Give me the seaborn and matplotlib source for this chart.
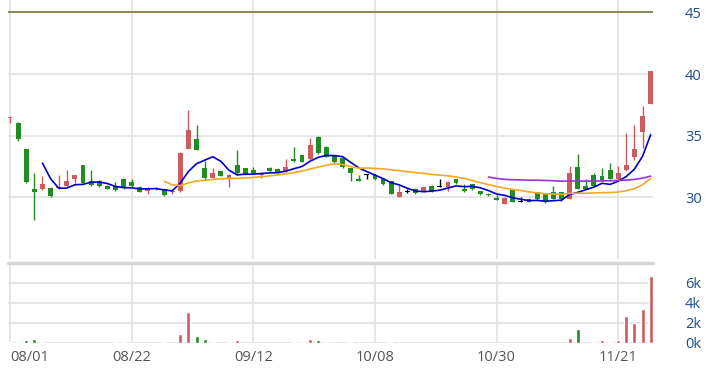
import matplotlib
matplotlib.use("Agg")
import matplotlib.pyplot as plt
import seaborn as sns
import pandas as pd

# daily OHLC, 80 trading days from 08/01
opens = [36.4, 36.0, 33.9, 30.65, 30.65, 30.75, 30.75, 30.9, 31.5, 32.6,
         31.3, 31.3, 30.95, 30.9, 31.45, 31.25, 30.85, 30.5, 30.65, 30.65,
         30.4, 30.5, 33.95, 34.7, 32.4, 31.6, 32.1, 31.6, 32.6, 32.35,
         32.25, 31.8, 32.4, 32.3, 32.1, 33.1, 33.4, 33.1, 34.9, 34.1,
         33.4, 33.2, 32.35, 31.5, 31.78, 31.85, 31.5, 31.3, 30.05, 30.4,
         30.7, 30.45, 30.95, 30.87, 30.8, 31.45, 30.7, 31.05, 30.5, 30.3,
         29.95, 29.5, 30.6, 29.65, 29.9, 30.4, 30.25, 30.4, 30.4, 29.9,
         32.5, 30.9, 31.8, 31.75, 32.2, 31.45, 32.2, 33.3, 35.3, 37.55]
highs = [36.6, 36.1, 33.9, 32.0, 31.7, 30.8, 31.8, 32.2, 31.85, 32.65,
         32.25, 31.4, 31.0, 31.25, 31.5, 31.45, 30.9, 30.8, 30.8, 30.7,
         30.6, 33.65, 37.1, 35.9, 32.95, 32.4, 32.15, 31.9, 33.8, 32.4,
         32.45, 32.05, 32.45, 32.35, 33.1, 34.1, 33.45, 34.85, 34.95, 34.15,
         33.45, 33.25, 32.4, 31.8, 31.9, 31.9, 31.55, 31.35, 31.0, 30.65,
         30.75, 30.85, 31.0, 31.5, 31.3, 31.5, 31.05, 31.1, 30.55, 30.35,
         30.15, 30.0, 30.65, 30.0, 29.95, 30.45, 30.3, 30.9, 30.45, 32.55,
         33.5, 31.5, 32.0, 32.4, 32.75, 32.5, 35.25, 35.85, 37.4, 40.25]
lows = [36.0, 34.6, 31.2, 28.2, 30.6, 30.0, 30.7, 30.85, 31.2, 31.15,
        30.95, 30.85, 30.65, 30.55, 30.7, 30.85, 30.4, 30.3, 30.6, 30.1,
        30.3, 30.45, 33.9, 33.8, 31.4, 31.55, 31.7, 30.8, 31.9, 31.85,
        31.9, 31.6, 32.05, 32.0, 32.05, 32.9, 32.85, 33.05, 33.55, 33.25,
        32.8, 32.4, 31.3, 31.3, 31.45, 31.4, 31.0, 30.25, 30.0, 30.38,
        30.3, 30.4, 30.45, 30.85, 30.5, 31.05, 30.45, 30.6, 30.2, 30.1,
        29.8, 29.45, 29.6, 29.6, 29.6, 29.8, 29.55, 29.85, 29.7, 29.85,
        30.65, 30.65, 30.9, 31.35, 31.45, 31.4, 32.15, 33.05, 34.0, 37.55]
closes = [36.45, 34.7, 31.25, 30.45, 31.05, 30.1, 30.85, 31.3, 31.8, 31.2,
          31.0, 30.9, 30.7, 30.6, 30.75, 30.9, 30.45, 30.75, 30.7, 30.2,
          30.55, 33.6, 35.45, 33.85, 31.6, 31.95, 31.75, 31.85, 31.95, 31.9,
          31.95, 32.0, 32.1, 32.05, 32.5, 32.95, 32.9, 34.25, 33.6, 33.3,
          32.85, 32.5, 31.95, 31.35, 31.78, 31.45, 31.05, 30.3, 30.45, 30.4,
          30.35, 30.8, 30.5, 30.87, 31.25, 31.2, 30.5, 30.65, 30.25, 30.15,
          29.8, 29.95, 29.65, 29.65, 29.65, 29.85, 29.6, 29.9, 29.85, 31.95,
          30.7, 30.7, 30.95, 31.4, 31.5, 32.0, 32.6, 33.95, 36.6, 40.25]
# volume in thousands
volumes = [0.1, 0.1, 0.25, 0.4, 0.1, 0, 0, 0, 0, 0,
           0, 0, 0, 0.1, 0.1, 0, 0, 0, 0, 0.08,
           0, 0.9, 3.1, 0.65, 0.4, 0.1, 0, 0.1, 0.27, 0,
           0, 0, 0, 0, 0, 0.05, 0.1, 0.4, 0.33, 0.1,
           0, 0, 0.08, 0, 0, 0, 0, 0.08, 0, 0,
           0, 0, 0, 0, 0, 0, 0, 0, 0, 0,
           0, 0, 0, 0, 0, 0, 0, 0, 0, 0.53,
           1.4, 0, 0.1, 0.27, 0.1, 0.3, 2.65, 2.0, 3.4, 6.7]
tick_labels = ['08/01', '08/22', '09/12', '10/08', '10/30', '11/21']
tick_step = 15
ref_price = 45

RED, GREEN = '#cd5c5c', '#228b22'
GRID = '#e2e2e2'
LABEL = '#1f4e8c'

sns.set_style('white')
plt.rcParams['font.family'] = ['Open Sans', 'DejaVu Sans']

df = pd.DataFrame({'open': opens, 'high': highs, 'low': lows,
                   'close': closes, 'vol': volumes})
df['ma5'] = df['close'].rolling(5).mean()
df['ma20'] = df['close'].rolling(20).mean()
df['ma60'] = df['close'].rolling(60).mean()

W, H = 717, 376
def box(x0, y0, x1, y1):
    return [x0 / W, 1 - y1 / H, (x1 - x0) / W, (y1 - y0) / H]

fig = plt.figure(figsize=(W / 100, H / 100), dpi=100)
ax = fig.add_axes(box(7.6, 0, 653.1, 259))
axv = fig.add_axes(box(7.6, 262.5, 653.1, 343))

ticks = [i * tick_step for i in range(len(tick_labels))]

# candles
for i, r in df.iterrows():
    if abs(r.close - r.open) < 1e-9:
        col = 'black'
    else:
        col = RED if r.close > r.open else GREEN
    ax.vlines(i, r.low, r.high, color=col, lw=1, zorder=3)
    lo = min(r.open, r.close)
    h = max(abs(r.close - r.open), 0.08)
    ax.bar(i, h, bottom=lo, width=0.6, color=col, lw=0, zorder=3)

sns.lineplot(x=df.index, y=df['ma5'], ax=ax, color='#0000cc', lw=1.2, zorder=4)
sns.lineplot(x=df.index, y=df['ma20'], ax=ax, color='#f5a623', lw=1.2, zorder=4)
sns.lineplot(x=df.index, y=df['ma60'], ax=ax, color='#9b30d9', lw=1.2, zorder=4)
ax.axhline(ref_price, color='#8c8c5e', lw=1.5, zorder=2)

ax.set_xlim(-0.3, 79.3)
ax.set_ylim(25, 46)
ax.set_yticks([30, 35, 40, 45])
ax.yaxis.tick_right()
ax.set_xticks(ticks)
ax.set_xticklabels([])
ax.grid(True, color=GRID, lw=1.2)
ax.set_axisbelow(True)
ax.tick_params(axis='y', length=0, pad=23, labelsize=10.5, labelcolor=LABEL)
ax.tick_params(axis='x', length=0)
ax.set_xlabel('')
ax.set_ylabel('')
sns.despine(ax=ax, left=True, bottom=True, right=True, top=True)

# volume
prev = df['close'].shift(1).fillna(df['open'])
vcols = {i: (RED if c >= p else GREEN) for i, (c, p) in enumerate(zip(df['close'], prev))}
sns.barplot(x=df.index, y=df['vol'], hue=df.index, palette=vcols, legend=False,
            dodge=False, ax=axv, width=0.5, saturation=1, zorder=3)
axv.axhline(8, color='#d6d6d6', lw=2.5, clip_on=False, zorder=2)
axv.set_xlim(-0.3, 79.3)
axv.set_ylim(0, 8)
axv.set_yticks([0, 2, 4, 6])
axv.set_yticklabels(['0k', '2k', '4k', '6k'])
axv.yaxis.tick_right()
axv.set_xticks(ticks)
axv.set_xticklabels(tick_labels)
axv.get_xticklabels()[0].set_ha('left')
axv.grid(True, color=GRID, lw=1.2)
axv.set_axisbelow(True)
axv.tick_params(axis='y', length=0, pad=23, labelsize=10.5, labelcolor=LABEL)
axv.tick_params(axis='x', length=0, pad=5, labelsize=10.5, labelcolor='#555555')
axv.set_xlabel('')
axv.set_ylabel('')
sns.despine(ax=axv, left=True, bottom=True, right=True, top=True)

fig.savefig('out.png', dpi=100)
